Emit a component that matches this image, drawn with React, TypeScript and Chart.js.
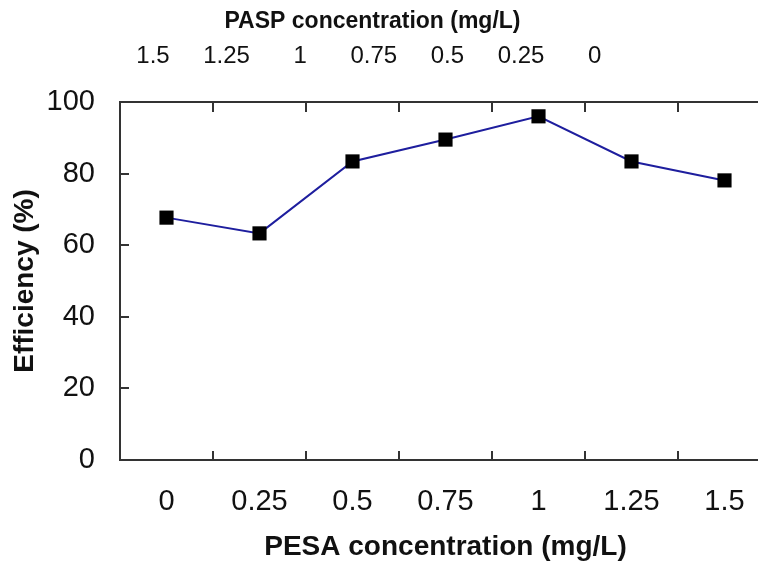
import React, { useEffect, useRef } from "react";
import { Chart, registerables } from "chart.js";

Chart.register(...registerables);

const pesaLabels = ["0", "0.25", "0.5", "0.75", "1", "1.25", "1.5"];
const paspLabels = ["1.5", "1.25", "1", "0.75", "0.5", "0.25", "0"];
const efficiency = [67.7, 63.3, 83.4, 89.5, 96.0, 83.4, 78.1];
const yTicks = [0, 20, 40, 60, 80, 100];

const FONT = "'Liberation Sans', Arial, sans-serif";
const AXIS = "#333333";
const TEXT = "#111111";

const noPad = (s: any) => {
  s.paddingLeft = 0;
  s.paddingRight = 0;
  s.paddingTop = 0;
  s.paddingBottom = 0;
};

export default function App() {
  const ref = useRef<HTMLCanvasElement | null>(null);

  useEffect(() => {
    if (!ref.current) return;
    const chart = new Chart(ref.current, {
      type: "line",
      data: {
        labels: pesaLabels,
        datasets: [
          {
            data: efficiency,
            xAxisID: "x",
            yAxisID: "y",
            borderColor: "#1e1e9e",
            borderWidth: 2,
            pointStyle: "rect",
            pointRadius: 10,
            pointHoverRadius: 10,
            pointBackgroundColor: "#000000",
            pointBorderColor: "#000000",
            pointBorderWidth: 0,
            tension: 0,
            fill: false,
          },
        ],
      },
      options: {
        responsive: false,
        animation: false,
        layout: { padding: 0, autoPadding: false },
        plugins: {
          legend: { display: false },
          tooltip: { enabled: false },
          title: {
            display: true,
            text: "PASP concentration (mg/L)",
            color: TEXT,
            font: { family: FONT, size: 23, weight: "bold", lineHeight: 1.2 },
            padding: { top: 8, bottom: 0 },
          },
        },
        scales: {
          x: {
            type: "category",
            position: "bottom",
            offset: true,
            grid: {
              offset: true,
              drawOnChartArea: false,
              drawTicks: true,
              tickLength: -9,
              color: AXIS,
              lineWidth: 2,
            },
            border: { display: true, color: AXIS, width: 2 },
            ticks: {
              color: TEXT,
              font: { family: FONT, size: 29, lineHeight: 1.2 },
              padding: 34,
              maxRotation: 0,
              autoSkip: false,
            },
            title: {
              display: true,
              text: "PESA concentration (mg/L)",
              color: TEXT,
              font: { family: FONT, size: 28, weight: "bold", lineHeight: 1.2 },
              padding: { top: 0, bottom: 0 },
            },
            afterFit: (s: any) => {
              s.height = 104;
              noPad(s);
            },
          },
          xTop: {
            type: "category",
            position: "top",
            weight: 0,
            offset: true,
            grid: {
              offset: true,
              drawOnChartArea: false,
              drawTicks: true,
              tickLength: -10,
              color: AXIS,
              lineWidth: 2,
            },
            border: { display: true, color: AXIS, width: 2 },
            ticks: { display: false },
            afterFit: (s: any) => {
              s.height = 0;
              noPad(s);
            },
          },
          xTopLabels: {
            type: "linear",
            position: "top",
            weight: 1,
            min: -0.4484,
            max: 8.397,
            grid: { display: false, drawTicks: false },
            border: { display: false },
            ticks: {
              color: TEXT,
              font: { family: FONT, size: 24, lineHeight: 1.2 },
              padding: 31.6,
              maxRotation: 0,
              autoSkip: false,
              callback: (v: any) => paspLabels[Math.round(Number(v))] ?? "",
            },
            afterBuildTicks: (s: any) => {
              s.ticks = paspLabels.map((_, i) => ({ value: i }));
            },
            afterFit: (s: any) => {
              s.height = 66.4;
              noPad(s);
            },
          },
          y: {
            type: "linear",
            position: "left",
            min: 0,
            max: 100,
            grid: {
              drawOnChartArea: false,
              drawTicks: true,
              tickLength: -9,
              color: AXIS,
              lineWidth: 2,
            },
            border: { display: true, color: AXIS, width: 2 },
            ticks: {
              color: TEXT,
              font: { family: FONT, size: 29, lineHeight: 1.2 },
              padding: 34,
              stepSize: 20,
              callback: (v: any) => String(v),
            },
            afterBuildTicks: (s: any) => {
              s.ticks = yTicks.map((v) => ({ value: v }));
            },
            title: {
              display: true,
              text: "Efficiency (%)",
              color: TEXT,
              font: { family: FONT, size: 28, weight: "bold", lineHeight: 1.2 },
              padding: { top: 34, bottom: 0 },
            },
            afterFit: (s: any) => {
              s.width = 146;
              noPad(s);
            },
          },
        },
      },
    });
    return () => chart.destroy();
  }, []);

  return (
    <div
      style={{
        position: "fixed",
        left: 0,
        top: 0,
        width: 758,
        height: 564,
        overflow: "hidden",
        background: "#ffffff",
      }}
    >
      <div style={{ position: "absolute", left: -26, top: 0 }}>
        <canvas ref={ref} width={797} height={564} style={{ display: "block" }} />
      </div>
    </div>
  );
}
